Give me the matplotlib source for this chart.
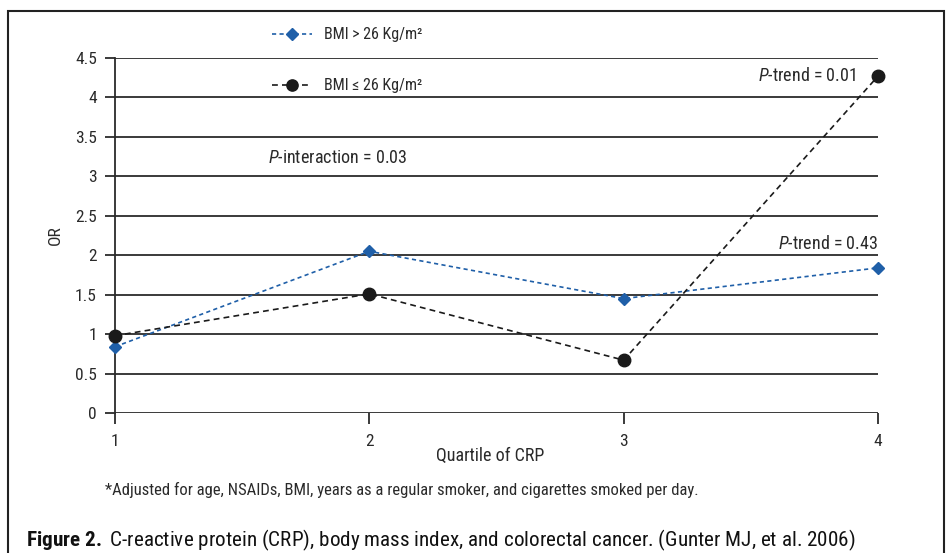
import matplotlib.pyplot as plt
from matplotlib.patches import Rectangle

plt.rcParams['font.family'] = ['Roboto Condensed', 'DejaVu Sans']
plt.rcParams['mathtext.fontset'] = 'custom'
plt.rcParams['mathtext.rm'] = 'Roboto Condensed'
plt.rcParams['mathtext.it'] = 'Roboto Condensed:italic'
plt.rcParams['mathtext.bf'] = 'Roboto Condensed:bold'

quartiles = [1, 2, 3, 4]
or_high_bmi = [0.84, 2.05, 1.45, 1.84]
or_low_bmi = [0.98, 1.51, 0.67, 4.27]
yticks = [0, 0.5, 1, 1.5, 2, 2.5, 3, 3.5, 4, 4.5]
blue = '#1f5fa8'
txt = '#2a2a2a'

fig = plt.figure(figsize=(9.46, 5.53), dpi=100)
ax = fig.add_axes([115/946, 1-413/553, (878-115)/946, (413-58)/553])

l1, = ax.plot(quartiles, or_high_bmi, color=blue, linestyle=(0, (2.5, 2)), linewidth=1.2,
              marker='D', markersize=6.5, markerfacecolor=blue, markeredgecolor=blue, clip_on=False, zorder=4)
l2, = ax.plot(quartiles, or_low_bmi, color='#1a1a1a', linestyle=(0, (3.5, 2.5)), linewidth=1.2,
              marker='o', markersize=9, markerfacecolor='#1a1a1a', markeredgecolor='#1a1a1a', clip_on=False, zorder=5)

ax.set_xlim(1, 4)
ax.set_ylim(0, 4.5)
ax.set_xticks(quartiles)
ax.set_yticks(yticks)
ax.set_yticklabels([f'{v:g}' for v in yticks])
for y in yticks:
    ax.axhline(y, color='#2b2b2b', linewidth=1.3, zorder=1)
for s in ['top', 'right', 'bottom']:
    ax.spines[s].set_visible(False)
ax.spines['left'].set_linewidth(1.3)
ax.spines['left'].set_color('#2b2b2b')
ax.tick_params(axis='y', length=7, width=1.3, color='#2b2b2b', labelsize=12.5, pad=6, labelcolor=txt)
ax.tick_params(axis='x', length=8, width=1.3, color='#2b2b2b', labelsize=12.5, pad=7, labelcolor=txt)
ax.set_xlabel('Quartile of CRP', fontsize=13, labelpad=0, color=txt)
ax.xaxis.set_label_coords((490-115)/763, -0.095)
ax.set_ylabel('OR', fontsize=12.5, labelpad=9, color=txt)

ax.text(1.6, 3.23, r'$\it{P}$-interaction = 0.03', fontsize=13, va='center', ha='left', color=txt)
ax.text(3.915, 4.27, r'$\it{P}$-trend = 0.01', fontsize=13, va='center', ha='right', color=txt)
ax.text(4.0, 2.14, r'$\it{P}$-trend = 0.43', fontsize=13, va='center', ha='right', color=txt)

fig.legend([l1, l2], ['BMI > 26 Kg/m²', 'BMI ≤ 26 Kg/m²'], loc='upper left',
           bbox_to_anchor=(258/946, 1-13/553), frameon=False, fontsize=11.5, labelcolor=txt,
           labelspacing=2.25, handlelength=2.5, handletextpad=0.75, markerscale=0.9)

fig.text(105/946, 1-490/553, '*Adjusted for age, NSAIDs, BMI, years as a regular smoker, and cigarettes smoked per day.',
         fontsize=12, va='center', color=txt)
fig.text(26/946, 1-540/553, r'$\bf{Figure\ 2.}$ C-reactive protein (CRP), body mass index, and colorectal cancer. (Gunter MJ, et al. 2006)',
         fontsize=15.2, va='center', color='#111111')

fig.patches.append(Rectangle((8/946, -0.01), 936/946, 1-11/553+0.01, transform=fig.transFigure,
                             fill=False, edgecolor='#222222', linewidth=1.5))

fig.savefig('out.png', dpi=100)
